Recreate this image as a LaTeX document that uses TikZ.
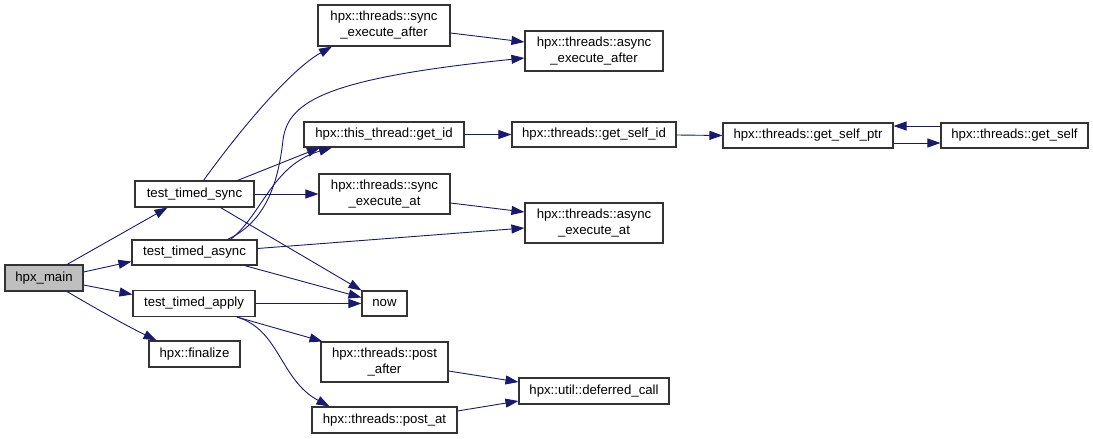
\documentclass[tikz,border=0pt]{standalone}
\usepackage{fontspec}
\setmainfont{Liberation Sans}
\usetikzlibrary{arrows.meta}
\definecolor{edgecol}{HTML}{191970}
\definecolor{boxcol}{HTML}{333333}
\definecolor{mainfill}{HTML}{BFBFBF}
\begin{document}
\begin{tikzpicture}[x=1pt,y=-1pt,
  fbox/.style={draw=boxcol,line width=1.1pt,fill=white,rectangle,inner sep=0pt,align=center,
    font=\fontsize{13.2}{16}\selectfont},
  edge/.style={draw=edgecol,line width=0.9pt,-{Triangle[length=13pt,width=9pt]}}]
\useasboundingbox (0,0) rectangle (1093,439);
% nodes
\node[fbox,fill=mainfill,minimum width=78pt,minimum height=26pt] (main) at (44,278) {hpx\_main};
\node[fbox,minimum width=119pt,minimum height=26pt] (sync) at (194.5,194) {test\_timed\_sync};
\node[fbox,minimum width=125pt,minimum height=25pt] (async) at (194.5,252.5) {test\_timed\_async};
\node[fbox,minimum width=122pt,minimum height=26pt] (apply) at (194,303.5) {test\_timed\_apply};
\node[fbox,minimum width=91pt,minimum height=26pt] (fin) at (194.5,354) {hpx::finalize};
\node[fbox,minimum width=132pt,minimum height=41pt] (sea) at (384,25.5) {hpx::threads::sync\\\_execute\_after};
\node[fbox,minimum width=138pt,minimum height=40pt] (aea) at (594,51) {hpx::threads::async\\\_execute\_after};
\node[fbox,minimum width=160pt,minimum height=25pt] (gid) at (384,134.5) {hpx::this\_thread::get\_id};
\node[fbox,minimum width=164pt,minimum height=25pt] (gsid) at (594,134.5) {hpx::threads::get\_self\_id};
\node[fbox,minimum width=131pt,minimum height=40pt] (seat) at (384.5,194) {hpx::threads::sync\\\_execute\_at};
\node[fbox,minimum width=138pt,minimum height=40pt] (aeat) at (594,223) {hpx::threads::async\\\_execute\_at};
\node[fbox,minimum width=45pt,minimum height=25pt] (now) at (384.5,303.5) {now};
\node[fbox,minimum width=127pt,minimum height=40pt] (pa) at (384.5,362) {hpx::threads::post\\\_after};
\node[fbox,minimum width=150pt,minimum height=26pt] (dc) at (594,391) {hpx::util::deferred\_call};
\node[fbox,minimum width=145pt,minimum height=26pt] (pat) at (384.5,420) {hpx::threads::post\_at};
\node[fbox,minimum width=170pt,minimum height=25pt] (gsp) at (808,135.5) {hpx::threads::get\_self\_ptr};
\node[fbox,minimum width=147pt,minimum height=25pt] (gs) at (1014.5,135.5) {hpx::threads::get\_self};
% edges
\path[edge] ([xshift=23pt]main.north) -- ([xshift=-27pt]sync.south);
\path[edge] ([yshift=6pt]main.east) -- ([yshift=-9pt]async.west);
\path[edge] ([yshift=-7pt]main.east) -- ([yshift=9pt]apply.west);
\path[edge] ([xshift=23pt]main.south) .. controls (95,308) and (125,325) .. ([xshift=-38pt]fin.north);
\path[edge] ([xshift=9pt]sync.north) .. controls (240,130) and (290,70) .. ([xshift=-52pt]sea.south);
\path[edge] ([xshift=43pt]sync.north) -- ([xshift=-64pt]gid.south);
\path[edge] (sync.east) -- (seat.west);
\path[edge] ([xshift=26pt]sync.south) -- (now.north west);
\path[edge] ([xshift=33pt]async.north) .. controls (265,222) and (278,185) .. (283,140)
   .. controls (288,100) and (330,78) .. ([yshift=-7pt]aea.west);
\path[edge] ([xshift=36pt]async.north) .. controls (262,215) and (272,165) .. ([xshift=-52pt]gid.south);
\path[edge] ([yshift=4pt]async.east) -- ([yshift=-5pt]aeat.west);
\path[edge] ([xshift=50pt]async.south) -- ([yshift=6pt]now.west);
\path[edge] (apply.east) -- (now.west);
\path[edge] ([xshift=43pt]apply.south) -- ([xshift=-62pt]pa.north);
\path[edge] ([xshift=43pt]apply.south) .. controls (280,330) and (280,380) .. ([xshift=-55pt]pat.north);
\path[edge] ([yshift=-7.5pt]sea.east) -- ([yshift=9pt]aea.west);
\path[edge] ([yshift=-9pt]seat.east) -- ([yshift=11pt]aeat.west);
\path[edge] (gid.east) -- (gsid.west);
\path[edge] ([yshift=-0.5pt]gsid.east) -- (gsp.west);
\path[edge] ([yshift=-7.5pt]gsp.east) -- ([yshift=-7.5pt]gs.west);
\path[edge] ([yshift=9.5pt]gs.west) -- ([yshift=9.5pt]gsp.east);
\path[edge] ([yshift=-9pt]pa.east) -- ([yshift=9pt]dc.west);
\path[edge] ([yshift=9pt]pat.east) -- ([yshift=-10pt]dc.west);
\end{tikzpicture}
\end{document}
